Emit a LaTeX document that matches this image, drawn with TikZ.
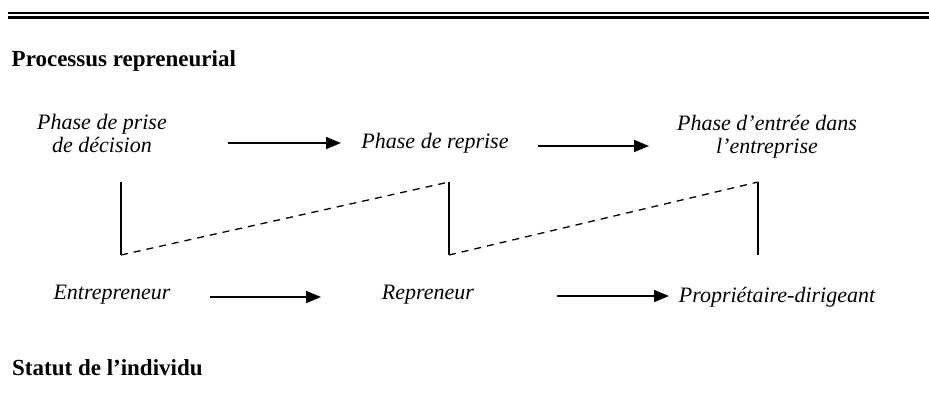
\documentclass[tikz,border=0pt]{standalone}
\usepackage{fontspec}
\setmainfont{Liberation Serif}
\usetikzlibrary{arrows.meta}
\begin{document}
\begin{tikzpicture}[x=1pt,y=-1pt,
  phase/.style={font=\fontsize{22}{23}\selectfont\itshape, align=center, anchor=base, inner sep=0pt},
  heading/.style={font=\fontsize{23}{24}\selectfont\bfseries, anchor=base west, inner sep=0pt},
  flow/.style={line width=1.8pt, -{Triangle[length=15pt,width=12pt]}},
  rule/.style={line width=#1},
  stem/.style={line width=2pt},
  link/.style={line width=1.3pt, dash pattern=on 7pt off 6pt}]
\useasboundingbox (0,0) rectangle (929,408);

% double rule at the top
\draw[rule=1.8pt] (8,13) -- (929,13);
\draw[rule=2.4pt] (8,17.6) -- (929,17.6);

% section headings
\node[heading] (hproc) at (11.5,66) {Processus repreneurial};
\node[heading] (hstat) at (12,375) {Statut de l’individu};

% phases of the process (base anchor sits on the last line)
\node[phase] (dec) at (102,152) {Phase de prise\\de décision};
\node[phase] (rep) at (435,148) {Phase de reprise};
\node[phase] (ent) at (767,153) {Phase d’entrée dans\\l’entreprise};

% status of the individual
\node[phase] (entr) at (112,299) {Entrepreneur};
\node[phase] (repr) at (428,299) {Repreneur};
\node[phase] (prop) at (777,302) {Propriétaire-dirigeant};

% arrow ends
\coordinate (a1s) at (228,143);
\coordinate (a1e) at (341,143);
\coordinate (a2s) at (538,146);
\coordinate (a2e) at (649,146);
\coordinate (b1s) at (210,297);
\coordinate (b1e) at (321,297);
\coordinate (b2s) at (557,296);
\coordinate (b2e) at (669,296);

\draw[flow] (a1s) -- (a1e);
\draw[flow] (a2s) -- (a2e);
\draw[flow] (b1s) -- (b1e);
\draw[flow] (b2s) -- (b2e);

% brackets linking phases and statuses
\coordinate (t1) at (121,182);
\coordinate (u1) at (121,255);
\coordinate (t2) at (449,182);
\coordinate (u2) at (449,255);
\coordinate (t3) at (758,182);
\coordinate (u3) at (758,255);

\draw[stem] (t1) -- (u1);
\draw[stem] (t2) -- (u2);
\draw[stem] (t3) -- (u3);
\draw[link] (u1) -- (t2);
\draw[link] (u2) -- (t3);
\end{tikzpicture}
\end{document}
